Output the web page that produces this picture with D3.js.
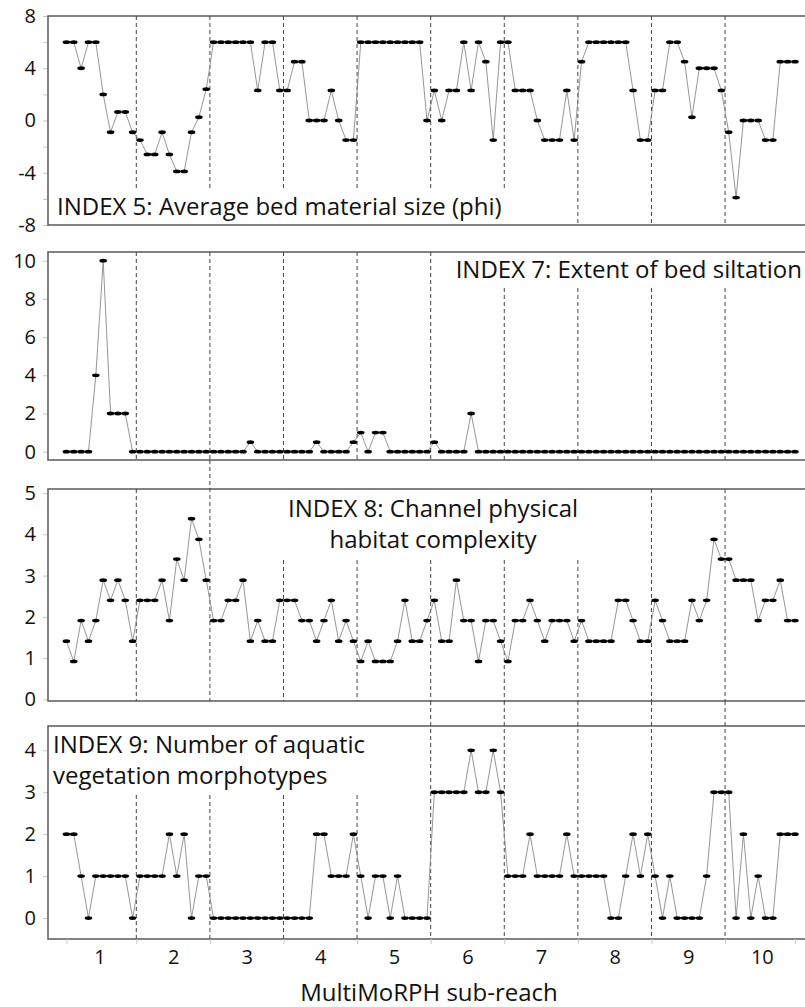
<!DOCTYPE html>
<html>
<head>
<meta charset="utf-8">
<script src="https://cdn.jsdelivr.net/npm/d3@7"></script>
<style>
  body { margin: 0; background: #fff; }
  text { font-family: "Open Sans", Lato, sans-serif; fill: #111; }
</style>
</head>
<body>
<div id="chart"></div>
<script>
// Datos

const reaches = ["1","2","3","4","5","6","7","8","9","10"]

const index5 = [6,6,4,6,6,2,-0.9,0.65,0.65,-0.9,
  -1.5,-2.6,-2.6,-0.9,-2.6,-3.9,-3.9,-0.9,0.25,2.4,
  6,6,6,6,6,6,2.3,6,6,2.3,
  2.3,4.5,4.5,0,0,0,2.3,0,-1.5,-1.5,
  6,6,6,6,6,6,6,6,6,0,
  2.3,0,2.3,2.3,6,2.3,6,4.5,-1.5,6,
  6,2.3,2.3,2.3,0,-1.5,-1.5,-1.5,2.3,-1.5,
  4.5,6,6,6,6,6,6,2.3,-1.5,-1.5,
  2.3,2.3,6,6,4.5,0.25,4,4,4,2.3,
  -0.9,-5.9,0,0,0,-1.5,-1.5,4.5,4.5,4.5]

const index7 = [0,0,0,0,4,10,2,2,2,0,
  0,0,0,0,0,0,0,0,0,0,
  0,0,0,0,0,0.5,0,0,0,0,
  0,0,0,0,0.5,0,0,0,0,0.5,
  1,0,1,1,0,0,0,0,0,0,
  0.5,0,0,0,0,2,0,0,0,0,
  0,0,0,0,0,0,0,0,0,0,
  0,0,0,0,0,0,0,0,0,0,
  0,0,0,0,0,0,0,0,0,0,
  0,0,0,0,0,0,0,0,0,0]

const index8 = [1.41,0.92,1.91,1.41,1.91,2.89,2.4,2.89,2.4,1.41,
  2.4,2.4,2.4,2.89,1.91,3.4,2.89,4.38,3.88,2.89,
  1.91,1.91,2.4,2.4,2.89,1.41,1.91,1.41,1.41,2.4,
  2.4,2.4,1.91,1.91,1.41,1.91,2.4,1.41,1.91,1.41,
  0.92,1.41,0.92,0.92,0.92,1.41,2.4,1.41,1.41,1.91,
  2.4,1.41,1.41,2.89,1.91,1.91,0.92,1.91,1.91,1.41,
  0.92,1.91,1.91,2.4,1.91,1.41,1.91,1.91,1.91,1.41,
  1.91,1.41,1.41,1.41,1.41,2.4,2.4,1.91,1.41,1.41,
  2.4,1.91,1.41,1.41,1.41,2.4,1.91,2.4,3.88,3.4,
  3.4,2.89,2.89,2.89,1.91,2.4,2.4,2.89,1.91,1.91]

const index9 = [2,2,1,0,1,1,1,1,1,0,
  1,1,1,1,2,1,2,0,1,1,
  0,0,0,0,0,0,0,0,0,0,
  0,0,0,0,2,2,1,1,1,2,
  1,0,1,1,0,1,0,0,0,0,
  3,3,3,3,3,4,3,3,4,3,
  1,1,1,2,1,1,1,1,2,1,
  1,1,1,1,0,0,1,2,1,2,
  1,0,1,0,0,0,0,1,3,3,
  3,0,2,0,1,0,0,2,2,2]

const ticks5 = [-8,-4,0,4,8]
const ticks7 = [0,2,4,6,8,10]
const ticks8 = [0,1,2,3,4,5]
const ticks9 = [0,1,2,3,4]

// Constantes

const width = 805
const height = 1007
const left = 48

const svg = d3.select("#chart").append("svg").attr("width", width).attr("height", height)

const x = d3.scaleLinear().domain([-2.5, 100.5]).range([left, 806])
const bounds = d3.range(1, 10).map(k => k * 10 - 0.5)

// paneles: dash = [inicio, fin] en px de cada línea discontinua
const panels = [
  {values: index5, top: 16, bottom: 225, domain: [-8, 8], ticks: ticks5, minor: d3.range(-8, 9, 2),
   title: ["INDEX 5: Average bed material size (phi)"], tx: 57, ty: 215, anchor: "start",
   dash: bounds.map((b, k) => k < 6 ? [16, 189] : [16, 225])},
  {values: index7, top: 252, bottom: 460, domain: [-0.435, 10.455], ticks: ticks7, minor: ticks7,
   title: ["INDEX 7: Extent of bed siltation"], tx: 802, ty: 278, anchor: "end",
   dash: bounds.map((b, k) => k < 5 ? [252, 460] : [288, 460])},
  {values: index8, top: 489, bottom: 701, domain: [-0.04, 5.1], ticks: ticks8, minor: ticks8,
   title: ["INDEX 8: Channel physical", "habitat complexity"], tx: 433, ty: 517, anchor: "middle",
   dash: bounds.map((b, k) => k == 0 || k > 6 ? [489, 701] : (k == 1 ? [460, 701] : [560, 701]))},
  {values: index9, top: 726, bottom: 939, domain: [-0.5, 4.58], ticks: ticks9, minor: ticks9,
   title: ["INDEX 9: Number of aquatic", "vegetation morphotypes"], tx: 53, ty: 753, anchor: "start",
   dash: bounds.map((b, k) => k < 4 ? [795, 939] : [701, 939])}
]

panels.forEach(p => {
  const y = d3.scaleLinear().domain(p.domain).range([p.bottom, p.top])
  const g = svg.append("g")

  // ticks grises
  const minorAxis = d3.axisLeft(y).tickValues(p.minor).tickSize(5).tickFormat("")
  g.append("g").attr("transform", `translate(${left},0)`).call(minorAxis)
    .call(a => a.select(".domain").remove())
    .selectAll("line").attr("stroke", "#c8c8c8")

  // etiquetas eje y
  const yAxis = d3.axisLeft(y).tickValues(p.ticks).tickSize(0).tickPadding(12).tickFormat(d => d)
  g.append("g").attr("transform", `translate(${left},0)`).call(yAxis)
    .call(a => a.select(".domain").remove())
    .selectAll("text").style("font-size", "20px").style("font-family", "'Open Sans', sans-serif").attr("fill", "#111")

  // marco
  g.append("path")
    .attr("d", `M806,${p.top}H${left}V${p.bottom}H806`)
    .attr("fill", "none").attr("stroke", "#5a5a5a").attr("stroke-width", 1.5)

  // líneas discontinuas
  g.selectAll("line.sep").data(bounds)
    .join("line").attr("class", "sep")
      .attr("x1", d => x(d)).attr("x2", d => x(d))
      .attr("y1", (d, k) => p.dash[k][0]).attr("y2", (d, k) => p.dash[k][1])
      .attr("stroke", "#444").attr("stroke-width", 1).attr("stroke-dasharray", "4,3")

  // serie
  const line = d3.line().x((d, i) => x(i)).y(d => y(d))
  g.append("path").datum(p.values)
    .attr("d", line).attr("fill", "none").attr("stroke", "#8a8a8a").attr("stroke-width", 0.9)

  g.selectAll("ellipse").data(p.values)
    .join("ellipse")
      .attr("cx", (d, i) => x(i)).attr("cy", d => y(d))
      .attr("rx", 3.8).attr("ry", 1.9).attr("fill", "#000")

  // título del panel
  const t = g.append("text").attr("x", p.tx).attr("y", p.ty)
    .attr("text-anchor", p.anchor).style("font-size", "24px")
  p.title.forEach((s, j) => t.append("tspan").attr("x", p.tx).attr("dy", j ? 31 : 0).text(s))
})

// eje x (solo abajo)
const last = panels[3]
const xTicks = d3.axisBottom(x).tickValues([0].concat(bounds).concat([99])).tickSize(5).tickFormat("")
svg.append("g").attr("transform", `translate(0,${last.bottom})`).call(xTicks)
  .call(a => a.select(".domain").remove())
  .selectAll("line").attr("stroke", "#c8c8c8")

const xAxis = d3.axisBottom(x).tickValues(reaches.map((r, k) => k * 10 + 4.5))
  .tickFormat((d, k) => reaches[k]).tickSize(0).tickPadding(11)
svg.append("g").attr("transform", `translate(0,${last.bottom})`).call(xAxis)
  .call(a => a.select(".domain").remove())
  .selectAll("text").style("font-size", "20px").style("font-family", "'Open Sans', sans-serif").attr("fill", "#111")

svg.append("text")
  .attr("x", 429).attr("y", 1001)
  .attr("text-anchor", "middle")
  .style("font-size", "24px")
  .text("MultiMoRPH sub-reach")
</script>
</body>
</html>
